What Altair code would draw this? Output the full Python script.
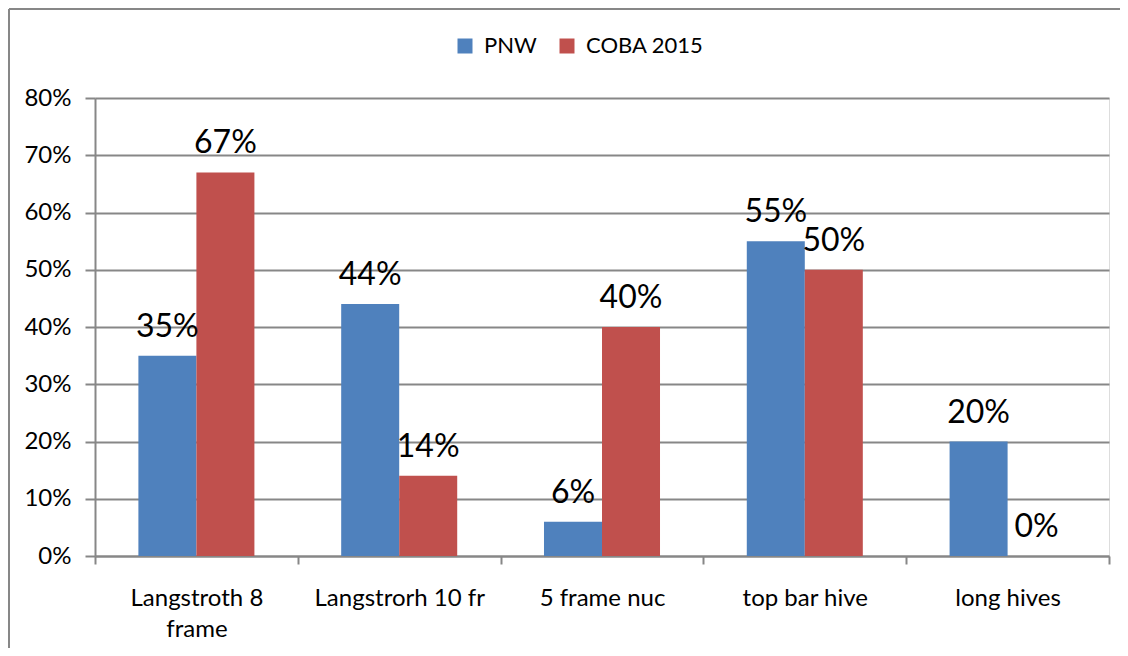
import altair as alt
import pandas as pd

categories = ["Langstroth 8 frame", "Langstrorh 10 fr", "5 frame nuc", "top bar hive", "long hives"]
series = ["PNW", "COBA 2015"]
pnw = [0.35, 0.44, 0.06, 0.55, 0.20]
coba = [0.67, 0.14, 0.40, 0.50, 0.00]
colors = ["#4F81BD", "#C0504D"]
y_ticks = [0, 0.1, 0.2, 0.3, 0.4, 0.5, 0.6, 0.7, 0.8]

rows = []
for c, v in zip(categories, pnw):
    rows.append({"cat": c, "series": "PNW", "value": v})
for c, v in zip(categories, coba):
    rows.append({"cat": c, "series": "COBA 2015", "value": v})
df = pd.DataFrame(rows)

W, H = 1014, 458
GRAY = "#878787"
FONT = "Lato"

x_enc = alt.X("cat:N", sort=categories, title=None,
              scale=alt.Scale(paddingInner=0, paddingOuter=0),
              axis=alt.Axis(labelAngle=0, tickBand="extent", grid=False,
                            domainColor=GRAY, domainWidth=2, tickColor=GRAY, tickWidth=2,
                            tickSize=8, labelPadding=22, labelFontSize=24, labelFont=FONT,
                            labelColor="#000000", labelLineHeight=31, labelBaseline="top",
                            labelExpr="datum.value == 'Langstroth 8 frame' ? ['Langstroth 8', 'frame'] : datum.value"))
xoff = alt.XOffset("series:N", sort=series, scale=alt.Scale(paddingOuter=0.748, paddingInner=0))
y_enc = alt.Y("value:Q", title=None,
              scale=alt.Scale(domain=[0, 0.8], nice=False),
              axis=alt.Axis(values=y_ticks, format=".0%", grid=True, gridColor=GRAY, gridWidth=2,
                            domainColor=GRAY, domainWidth=2, tickColor=GRAY, tickWidth=2, tickSize=10,
                            labelPadding=14, labelFontSize=24, labelFont=FONT, labelColor="#000000"))

bars = alt.Chart(df).mark_bar(strokeWidth=0).encode(
    x=x_enc, xOffset=xoff, y=y_enc,
    color=alt.Color("series:N", sort=series,
                    scale=alt.Scale(domain=series, range=colors),
                    legend=alt.Legend(orient="none", legendX=359, legendY=-63, direction="horizontal",
                                      title=None, symbolType="square", symbolSize=225,
                                      symbolStrokeWidth=0, labelFontSize=22, labelFont=FONT,
                                      labelColor="#000000", columnPadding=19, labelOffset=8, padding=0)),
)

labels = alt.Chart(df).mark_text(baseline="alphabetic", dy=-19, fontSize=32, font=FONT, color="#000000").encode(
    x=alt.X("cat:N", sort=categories), xOffset=alt.XOffset("series:N", sort=series), y="value:Q",
    text=alt.Text("value:Q", format=".0%"),
)

frame = pd.DataFrame({"a": [0]})
top_line = alt.Chart(frame).mark_rule(stroke=GRAY, strokeWidth=2).encode(
    x=alt.value(-86), x2=alt.value(W + 11), y=alt.value(-89),
)
left_line = alt.Chart(frame).mark_rule(stroke=GRAY, strokeWidth=2).encode(
    x=alt.value(-86), y=alt.value(-89), y2=alt.value(H + 92),
)

chart = alt.layer(top_line, left_line, bars, labels).properties(
    width=W, height=H,
    autosize=alt.AutoSizeParams(type="none"),
    padding={"left": 87, "top": 90, "right": 11, "bottom": 92},
).configure_view(stroke=None).configure(font=FONT)

chart.save("out.html", embed_options={"renderer": "svg", "actions": False})
